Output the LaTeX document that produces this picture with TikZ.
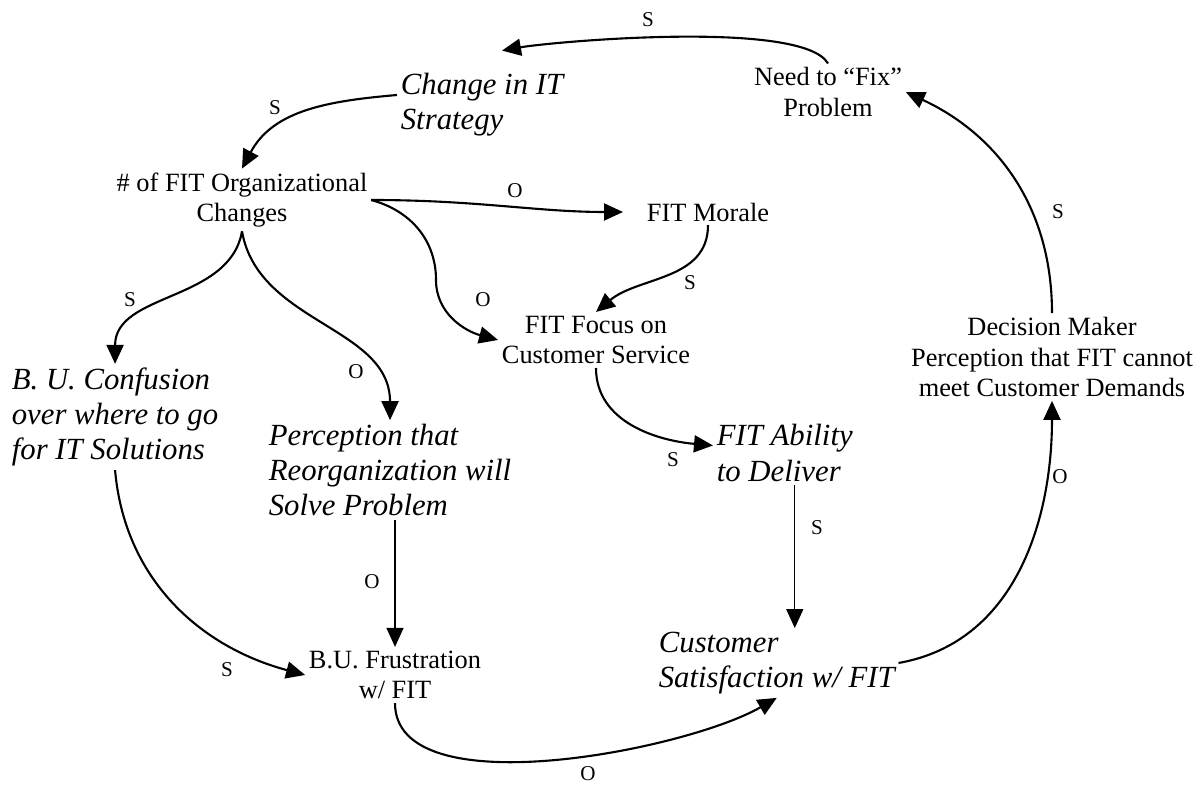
\documentclass[tikz,border=0pt]{standalone}
\usepackage{fontspec}
\setmainfont{Liberation Serif}
\usetikzlibrary{arrows.meta}

\begin{document}
\begin{tikzpicture}[
    var/.style={align=center, inner sep=2pt, font=\fontsize{15}{17.5}\selectfont},
    ivar/.style={align=left, inner sep=2pt, anchor=west, font=\fontsize{17.5}{20}\selectfont\itshape},
    sign/.style={inner sep=0pt, font=\fontsize{12}{14}\selectfont},
    link/.style={line width=1.2pt, -{Triangle[length=0.38cm,width=0.34cm]}},
    slink/.style={line width=0.8pt, -{Triangle[length=0.38cm,width=0.34cm]}}]
    \useasboundingbox (0,0) rectangle (24.04,-15.8);
    % variables
    \node[var]  (fix)     at (16.56,-1.84) {Need to “Fix”\\Problem};
    \node[ivar] (strat)   at (7.94,-2.1)   {Change in IT\\Strategy};
    \node[var]  (orgch)   at (4.84,-4.0)   {\# of FIT Organizational\\Changes};
    \node[var]  (morale)  at (14.16,-4.24) {FIT Morale};
    \node[var]  (focus)   at (11.92,-6.8)  {FIT Focus on\\Customer Service};
    \node[ivar] (confuse) at (0.16,-8.34)  {B. U. Confusion\\over where to go\\for IT Solutions};
    \node[ivar] (reorg)   at (5.3,-9.4)    {Perception that\\Reorganization will\\Solve Problem};
    \node[ivar] (ability) at (14.26,-9.06) {FIT Ability\\to Deliver};
    \node[var]  (decide)  at (21.04,-7.14) {Decision Maker\\Perception that FIT cannot\\meet Customer Demands};
    \node[var]  (frust)   at (7.9,-13.5)   {B.U. Frustration\\w/ FIT};
    \node[ivar] (satis)   at (13.1,-13.26) {Customer\\Satisfaction w/ FIT};
    \coordinate (bend) at (8.72,-5.6);
    % links
    \draw[link] (fix.north) to[out=120,in=10,looseness=0.4] ([xshift=0.4cm,yshift=0.38cm]strat.north);
    \draw[link] ([yshift=0.2cm]strat.west) to[out=185,in=62] (orgch.north);
    \draw[link,shorten >=0.4cm] (orgch.east) to[out=0,in=180] (morale.west);
    \draw[link] (orgch.east) to[out=-15,in=90] (bend) to[out=-90,in=165] (focus.west);
    \draw[link] (morale.south) to[out=-90,in=40] (focus.north);
    \draw[link] (orgch.south) to[out=-100,in=90] (confuse.north);
    \draw[link] (orgch.south) to[out=-80,in=90] (reorg.north);
    \draw[link] (confuse.south) to[out=-85,in=165] (frust.west);
    \draw[slink] (frust.north |- reorg.south) -- (frust.north);
    \draw[link] (focus.south) to[out=-90,in=175] ([yshift=0.15cm]ability.west);
    \draw[slink] ([xshift=0.2cm]ability.south) -- ([xshift=0.2cm]ability.south |- satis.north);
    \draw[link] (frust.south) to[out=-90,in=-150,looseness=0.7] (satis.south);
    \draw[link] (satis.east) to[out=10,in=-90] (decide.south);
    \draw[link] (decide.north) to[out=90,in=-25] (fix.east);
    % signs
    \node[sign] (s1)  at (12.96,-0.4)  {S};
    \node[sign] (s2)  at (5.5,-2.16)   {S};
    \node[sign] (o1)  at (10.3,-3.82)  {O};
    \node[sign] (o2)  at (9.66,-6.0)   {O};
    \node[sign] (s3)  at (13.8,-5.66)  {S};
    \node[sign] (s4)  at (2.6,-6.0)    {S};
    \node[sign] (o3)  at (7.12,-7.44)  {O};
    \node[sign] (s5)  at (4.54,-13.4)  {S};
    \node[sign] (o4)  at (7.44,-11.64) {O};
    \node[sign] (s6)  at (13.46,-9.2)  {S};
    \node[sign] (s7)  at (16.34,-10.56) {S};
    \node[sign] (o5)  at (11.76,-15.48) {O};
    \node[sign] (o6)  at (21.2,-9.54)  {O};
    \node[sign] (s8)  at (21.16,-4.24) {S};
\end{tikzpicture}
\end{document}
